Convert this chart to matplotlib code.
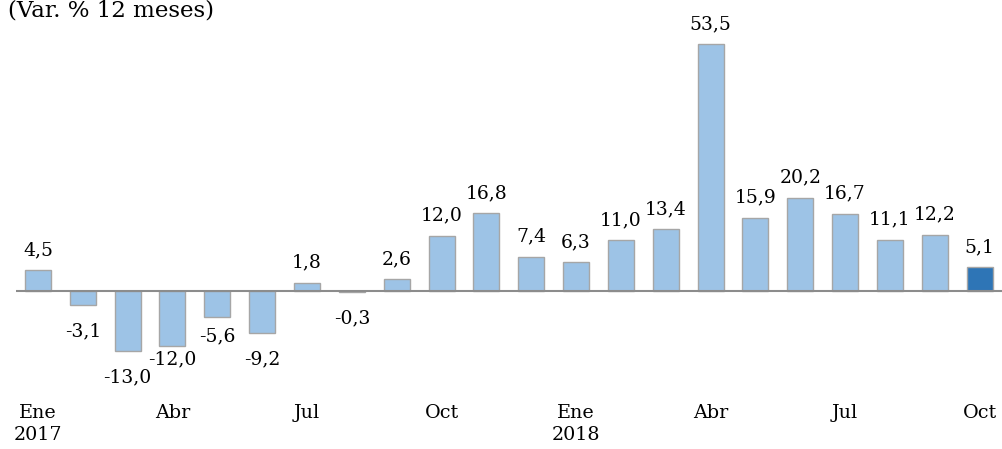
import matplotlib
matplotlib.use("Agg")
import matplotlib.pyplot as plt

plt.rcParams['font.family'] = ['DejaVu Serif']

values = [4.5, -3.1, -13.0, -12.0, -5.6, -9.2, 1.8, -0.3, 2.6, 12.0, 16.8, 7.4,
          6.3, 11.0, 13.4, 53.5, 15.9, 20.2, 16.7, 11.1, 12.2, 5.1]
tick_pos = [0, 3, 6, 9, 12, 15, 18, 21]
tick_labels = ["Ene\n2017", "Abr", "Jul", "Oct", "Ene\n2018", "Abr", "Jul", "Oct"]
title = "(Var. % 12 meses)"

light = "#9DC3E6"
dark = "#2E75B6"
edge = "#A6A6A6"

fig = plt.figure(figsize=(10.02, 4.49), dpi=100)
ax = fig.add_axes([0.0155, 49/449, 0.9845, 400/449])

x = list(range(len(values)))
colors = [light] * (len(values) - 1) + [dark]
ax.bar(x, values, width=0.58, color=colors, edgecolor=edge, linewidth=1.0, zorder=2)
ax.axhline(0, color="#8C8C8C", linewidth=1.5, zorder=3)

# label offsets in pixels (negative bars: below the bar end)
neg_offsets = {3: -13, 4: -20}
for i, v in enumerate(values):
    lab = f"{v:.1f}".replace(".", ",")
    off = 20 if v >= 0 else neg_offsets.get(i, -26)
    ax.annotate(lab, (i, v), xytext=(0, off * 0.72), textcoords="offset points",
                ha="center", va="center", fontsize=13.5, color="black")

ax.set_xlim(-0.5, 21.5)
ax.set_ylim(-23.6, 63.0)
ax.set_xticks(tick_pos)
ax.set_xticklabels(tick_labels, fontsize=13.8, linespacing=1.25)
ax.tick_params(axis="x", length=0, pad=3)
ax.set_yticks([])
for s in ax.spines.values():
    s.set_visible(False)

fig.text(8/1002, 1 - 17/449, title, ha="left", va="baseline", fontsize=16.5)

fig.savefig("out.png", dpi=100)
